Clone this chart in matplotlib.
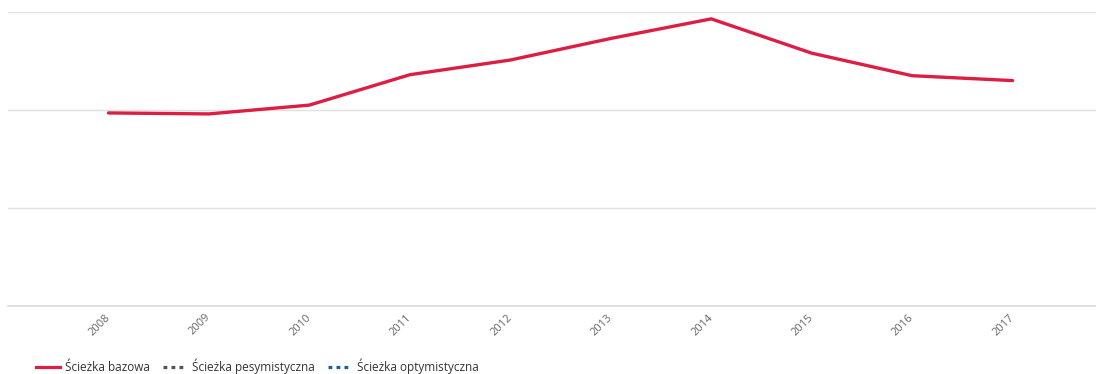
import matplotlib
matplotlib.use("Agg")
import matplotlib.pyplot as plt
from matplotlib.lines import Line2D

plt.rcParams['font.family'] = ['Open Sans', 'DejaVu Sans']

# dane (skala umowna, siatka co 10)
lata = [2008, 2009, 2010, 2011, 2012, 2013, 2014, 2015, 2016, 2017]
sciezka_bazowa = [19.7, 19.6, 20.5, 23.6, 25.1, 27.3, 29.3, 25.8, 23.5, 23.0]
sciezka_pesymistyczna = []
sciezka_optymistyczna = []
etykiety_y = [0, 10, 20, 30]

fig = plt.figure(figsize=(10.96, 3.74), dpi=100)
ax = fig.add_axes([8 / 1096, 1 - 306 / 374, 1 - 8 / 1096, 294 / 374])

x = list(range(len(lata)))
ax.plot(x, sciezka_bazowa, color="#dc1e44", linewidth=2.4, solid_capstyle="round",
        solid_joinstyle="miter", zorder=3)
ax.plot(x[:len(sciezka_pesymistyczna)], sciezka_pesymistyczna, color="#555555", linestyle=":", linewidth=2.3)
ax.plot(x[:len(sciezka_optymistyczna)], sciezka_optymistyczna, color="#1f5ca8", linestyle=":", linewidth=2.3)

ax.set_xlim(-1, len(lata) - 1 + 0.83)
ax.set_ylim(0, 30)
ax.set_yticks(etykiety_y)
ax.set_yticklabels([])
ax.tick_params(axis="y", length=0)
ax.grid(axis="y", color="#e0e0e0", linewidth=1)
ax.set_axisbelow(True)
for s in ["top", "right", "left"]:
    ax.spines[s].set_visible(False)
ax.spines["bottom"].set_color("#dcdcdc")
ax.spines["bottom"].set_linewidth(1.2)

ax.set_xticks(x)
ax.set_xticklabels([str(r) for r in lata], rotation=45, ha="right", va="center",
                   rotation_mode="anchor", fontsize=8, color="#666666")
ax.tick_params(axis="x", length=0, pad=7)

uchwyty = [
    Line2D([], [], color="#dc1e44", linewidth=2.3),
    Line2D([], [], color="#555555", linewidth=2.3, linestyle=(0, (1.2, 1.3))),
    Line2D([], [], color="#1f5ca8", linewidth=2.3, linestyle=(0, (1.2, 1.3))),
]
opisy = ["Ścieżka bazowa", "Ścieżka pesymistyczna", "Ścieżka optymistyczna"]
fig.legend(uchwyty, opisy, loc="center left", bbox_to_anchor=(36 / 1096, 1 - 366 / 374),
           ncol=3, frameon=False, fontsize=8.5, handlelength=2.0, handletextpad=0.45,
           columnspacing=1.1, labelcolor="#333333", borderaxespad=0, borderpad=0)

fig.savefig("out.png", dpi=100)
